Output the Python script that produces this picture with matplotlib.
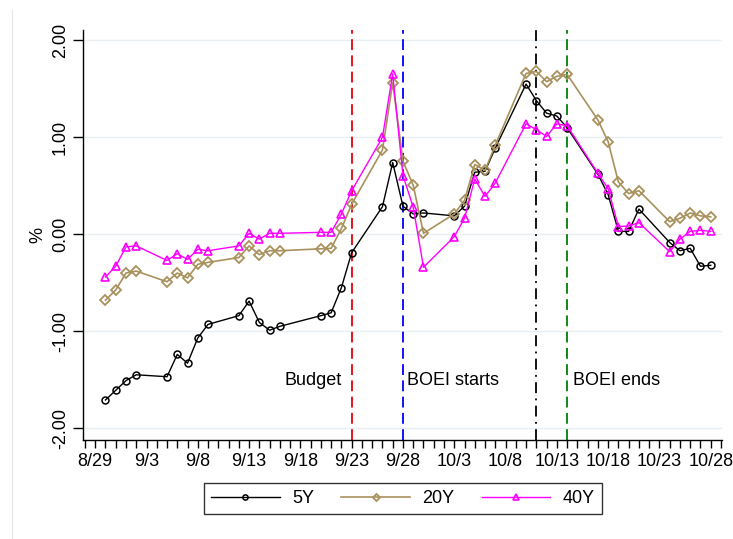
import matplotlib
matplotlib.use("Agg")
import matplotlib.pyplot as plt
import matplotlib.dates as mdates
from matplotlib.lines import Line2D
import numpy as np
import datetime as dt

plt.rcParams['font.family'] = ['Liberation Sans', 'DejaVu Sans']
plt.rcParams['axes.unicode_minus'] = False

dates = ["2022-08-30", "2022-08-31", "2022-09-01", "2022-09-02", "2022-09-05",
         "2022-09-06", "2022-09-07", "2022-09-08", "2022-09-09", "2022-09-12",
         "2022-09-13", "2022-09-14", "2022-09-15", "2022-09-16", "2022-09-20",
         "2022-09-21", "2022-09-22", "2022-09-23", "2022-09-26", "2022-09-27",
         "2022-09-28", "2022-09-29", "2022-09-30", "2022-10-03", "2022-10-04",
         "2022-10-05", "2022-10-06", "2022-10-07", "2022-10-10", "2022-10-11",
         "2022-10-12", "2022-10-13", "2022-10-14", "2022-10-17", "2022-10-18",
         "2022-10-19", "2022-10-20", "2022-10-21", "2022-10-24", "2022-10-25",
         "2022-10-26", "2022-10-27", "2022-10-28"]

y5 = [-1.71, -1.61, -1.51, -1.45, -1.47, -1.24, -1.33, -1.07, -0.93, -0.84,
      -0.69, -0.91, -0.99, -0.95, -0.84, -0.81, -0.55, -0.19, 0.285, 0.74,
      0.29, 0.21, 0.22, 0.19, 0.29, 0.64, 0.65, 0.89, 1.55, 1.38,
      1.25, 1.22, 1.10, 0.62, 0.41, 0.03, 0.03, 0.26, -0.085, -0.17,
      -0.145, -0.33, -0.32]

y20 = [-0.68, -0.575, -0.40, -0.38, -0.49, -0.40, -0.45, -0.31, -0.29, -0.24,
       -0.12, -0.21, -0.17, -0.17, -0.15, -0.145, 0.06, 0.31, 0.87, 1.565,
       0.755, 0.505, 0.01, 0.21, 0.35, 0.72, 0.66, 0.92, 1.66, 1.68,
       1.575, 1.63, 1.65, 1.18, 0.955, 0.54, 0.42, 0.45, 0.13, 0.165,
       0.22, 0.19, 0.18]

y40 = [-0.44, -0.33, -0.13, -0.12, -0.27, -0.20, -0.26, -0.155, -0.17, -0.12,
       0.01, -0.05, 0.01, 0.01, 0.02, 0.02, 0.21, 0.45, 1.00, 1.655,
       0.605, 0.28, -0.34, -0.025, 0.165, 0.57, 0.39, 0.53, 1.14, 1.08,
       1.01, 1.14, 1.12, 0.63, 0.47, 0.08, 0.085, 0.12, -0.18, -0.05,
       0.03, 0.04, 0.03]

series_names = ["5Y", "20Y", "40Y"]
event_dates = ["2022-09-23", "2022-09-28", "2022-10-11", "2022-10-14"]
event_labels = ["Budget", "BOEI starts", "", "BOEI ends"]

x = [dt.datetime.strptime(d, "%Y-%m-%d") for d in dates]
ev = [dt.datetime.strptime(d, "%Y-%m-%d") for d in event_dates]

FS = 13

fig = plt.figure(figsize=(7.33, 5.39), dpi=100)
ax = fig.add_axes([83/733, 1-440/539, (721.7-83)/733, (440-30)/539])

# faint outer region line
fig.add_artist(Line2D([12/733, 12/733], [0, 1-10/539], transform=fig.transFigure,
                      color='#e6e6e6', lw=0.8))

ax.set_ylim(-2.123, 2.108)
ax.set_xlim(dt.datetime(2022, 8, 29) - dt.timedelta(days=1.19),
            dt.datetime(2022, 8, 29) + dt.timedelta(days=61.07))

ax.set_yticks([-2, -1, 0, 1, 2])
ax.set_yticklabels(["%.2f" % v for v in [-2, -1, 0, 1, 2]], rotation=90, va='center')
for v in [-2, -1, 0, 1, 2]:
    ax.axhline(v, color='#e8eef2', lw=1.0, zorder=0)

major = [dt.datetime(2022, 8, 29) + dt.timedelta(days=5*i) for i in range(13)]
ax.set_xticks(major)
ax.set_xticklabels([f"{d.month}/{d.day}" for d in major])
ax.xaxis.set_minor_locator(mdates.DayLocator())

ax.tick_params(axis='x', which='both', length=6, width=1, labelsize=FS, pad=3)
ax.tick_params(axis='y', which='major', length=7, width=1, labelsize=FS, pad=3)

for s in ['top', 'right']:
    ax.spines[s].set_visible(False)
for s in ['left', 'bottom']:
    ax.spines[s].set_linewidth(1.0)

ax.set_ylabel("%", fontsize=FS, labelpad=4)

ax.plot(x, y5, color='black', lw=1.0, marker='o', ms=5, mfc='none', mew=1.1,
        label=series_names[0], zorder=3)
ax.plot(x, y20, color='#a8915c', lw=1.2, marker='D', ms=4.8, mfc='none', mew=1.3,
        label=series_names[1], zorder=3)
ax.plot(x, y40, color='#ff00ff', lw=1.0, marker='^', ms=6, mfc='none', mew=1.2,
        label=series_names[2], zorder=3)

ev_styles = [dict(color='#e8000b', ls=(0, (6, 3))),
             dict(color='#0000ff', ls=(0, (6, 3))),
             dict(color='black', ls=(0, (6, 3, 1, 3))),
             dict(color='#008000', ls=(0, (6, 3)))]
for d, st in zip(ev, ev_styles):
    ax.axvline(d, lw=1.3, zorder=2, **st)

ax.text(ev[0] - dt.timedelta(days=1.0), -1.51, event_labels[0], ha='right', va='center', fontsize=FS)
ax.text(ev[1] + dt.timedelta(days=0.4), -1.51, event_labels[1], ha='left', va='center', fontsize=FS)
ax.text(ev[3] + dt.timedelta(days=0.6), -1.51, event_labels[3], ha='left', va='center', fontsize=FS)

leg = fig.legend(loc='center', bbox_to_anchor=(403/733, 1-498.5/539), ncol=3,
                 frameon=True, fancybox=False, edgecolor='black', fontsize=FS,
                 handlelength=3.8, columnspacing=1.5, handletextpad=0.7,
                 borderpad=0.4, borderaxespad=0, markerscale=0.75)
leg.get_frame().set_linewidth(1.0)

fig.savefig("out.png", dpi=100)
